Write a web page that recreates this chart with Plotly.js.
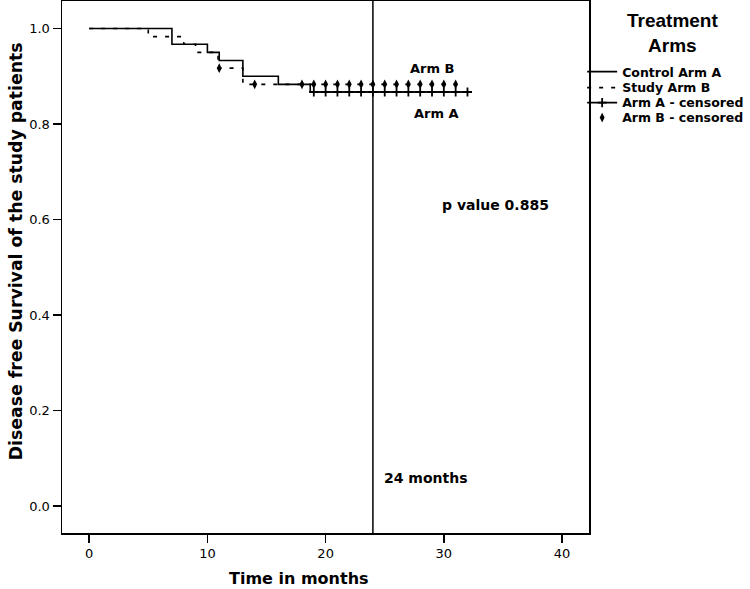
<!DOCTYPE html>
<html>
<head>
<meta charset="utf-8">
<script src="https://cdn.plot.ly/plotly-3.0.1.min.js"></script>
<style>html,body{margin:0;padding:0;background:#fff;}#chart{width:750px;height:589px;}</style>
</head>
<body>
<div id="chart"></div>
<script>
// Kaplan-Meier step data (time in months, survival proportion)
const armA_time = [0, 7, 10, 11, 13, 16, 18.7, 32];
const armA_surv = [1.0, 0.967, 0.95, 0.933, 0.9, 0.883, 0.867, 0.867];
const armB_time = [0, 5, 8, 9, 10.9, 13, 31];
const armB_surv = [1.0, 0.983, 0.967, 0.95, 0.917, 0.883, 0.883];
// censored observations
const armA_cens_time = [19, 20, 21, 22, 23, 24, 25, 26, 27, 28, 29, 30, 31, 32];
const armA_cens_surv = [0.867, 0.867, 0.867, 0.867, 0.867, 0.867, 0.867, 0.867, 0.867, 0.867, 0.867, 0.867, 0.867, 0.867];
const armB_cens_time = [11, 14, 18, 19, 20, 21, 22, 23, 24, 25, 26, 27, 28, 29, 30, 31];
const armB_cens_surv = [0.917, 0.883, 0.883, 0.883, 0.883, 0.883, 0.883, 0.883, 0.883, 0.883, 0.883, 0.883, 0.883, 0.883, 0.883, 0.883];
const seriesNames = ['Control Arm A', 'Study Arm B', 'Arm A - censored', 'Arm B - censored'];
const xTicks = [0, 10, 20, 30, 40];
const yTicks = [0.0, 0.2, 0.4, 0.6, 0.8, 1.0];
const yTickText = ['0.0', '0.2', '0.4', '0.6', '0.8', '1.0'];
const cutoffMonth = 24;
const pValue = 0.885;

const lblFont = {family: 'DejaVu Sans', size: 14, color: '#000', weight: 'bold'};
const legFont = {family: 'DejaVu Sans', size: 12.5, weight: 'bold', color: '#000'};
function leg(y) {
  return {x: 0.987, xanchor: 'left', y: y, yanchor: 'top', bgcolor: 'rgba(0,0,0,0)', borderwidth: 0,
          font: legFont, itemwidth: 30};
}

const traces = [
  {x: armA_time, y: armA_surv, name: seriesNames[0], legend: 'legend', mode: 'lines', line: {shape: 'hv', color: '#000', width: 1.6}},
  {x: armB_time, y: armB_surv, name: seriesNames[1], legend: 'legend2', mode: 'lines', line: {shape: 'hv', color: '#000', width: 1.6, dash: '4px,8px'}},
  {x: armA_cens_time, y: armA_cens_surv, name: seriesNames[2], legend: 'legend3', mode: 'lines+markers', line: {color: '#000', width: 1.6},
   marker: {symbol: 'cross-thin', size: 6.5, color: '#000', line: {color: '#000', width: 1.8}}},
  {x: armB_cens_time, y: armB_cens_surv, name: seriesNames[3], legend: 'legend4', mode: 'markers',
   marker: {symbol: 'diamond-tall', size: 7, color: '#000'}}
];

const layout = {
  width: 750, height: 589,
  margin: {l: 62, r: 158, t: 1, b: 56},
  paper_bgcolor: '#fff', plot_bgcolor: '#fff',
  font: {family: 'DejaVu Sans', color: '#000'},
  showlegend: true,
  legend: leg(0.8947),
  legend2: leg(0.8647),
  legend3: leg(0.8365),
  legend4: leg(0.8083),
  xaxis: {range: [-2.3, 42.28], tickvals: xTicks, ticks: 'outside', ticklen: 8, tickwidth: 1.5, tickcolor: '#000',
          showgrid: false, zeroline: false, showline: true, linecolor: '#000', linewidth: 1.5, mirror: true,
          tickfont: {family: 'DejaVu Sans', size: 13, color: '#000'}},
  yaxis: {range: [-0.0565, 1.0576], tickvals: yTicks, ticktext: yTickText, ticks: 'outside', ticklen: 8, tickwidth: 1.5, tickcolor: '#000',
          showgrid: false, zeroline: false, showline: true, linecolor: '#000', linewidth: 1.5, mirror: true,
          tickfont: {family: 'DejaVu Sans', size: 13, color: '#000'}},
  shapes: [
    {type: 'line', xref: 'x', yref: 'paper', x0: cutoffMonth, x1: cutoffMonth, y0: 0, y1: 1, line: {color: '#000', width: 1.5}}
  ],
  annotations: [
    {text: 'Arm B', x: 29.0, y: 0.917, xref: 'x', yref: 'y', showarrow: false, font: {family: 'DejaVu Sans', size: 13, weight: 'bold', color: '#000'}},
    {text: 'Arm A', x: 29.4, y: 0.823, xref: 'x', yref: 'y', showarrow: false, font: {family: 'DejaVu Sans', size: 13, weight: 'bold', color: '#000'}},
    {text: 'p value ' + pValue.toFixed(3), x: 34.4, y: 0.63, xref: 'x', yref: 'y', showarrow: false, font: lblFont},
    {text: cutoffMonth + ' months', x: 28.5, y: 0.059, xref: 'x', yref: 'y', showarrow: false, font: lblFont},
    {text: 'Time in months', x: 0.449, y: -0.0846, xref: 'paper', yref: 'paper', showarrow: false, xanchor: 'center', yanchor: 'middle',
     font: {family: 'DejaVu Sans', size: 16, weight: 'bold', color: '#000'}},
    {text: 'Disease free Survival of the study patients', x: -0.0868, y: 0.53, xref: 'paper', yref: 'paper', showarrow: false, textangle: -90,
     xanchor: 'center', yanchor: 'middle', font: {family: 'DejaVu Sans', size: 17.3, weight: 'bold', color: '#000'}},
    {text: 'Treatment<br>Arms', x: 1.158, y: 0.94, xref: 'paper', yref: 'paper', showarrow: false, xanchor: 'center', yanchor: 'middle',
     font: {family: 'Liberation Sans', size: 19, weight: 'bold', color: '#000'}}
  ]
};

Plotly.newPlot('chart', traces, layout, {displayModeBar: false, staticPlot: true});
</script>
</body>
</html>
